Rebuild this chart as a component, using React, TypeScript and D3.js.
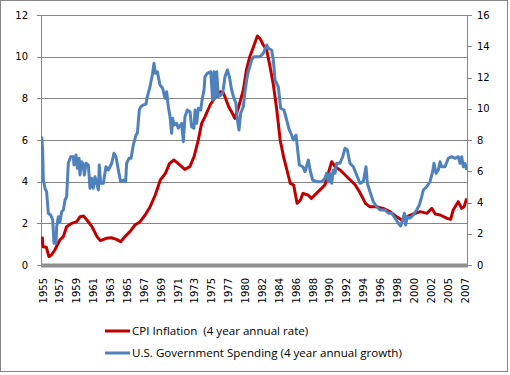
import React from "react";
import * as d3 from "d3";

const yearLabels = ["1955","1957","1959","1961","1963","1965","1967","1969","1971","1973","1975","1977","1980","1982","1984","1986","1988","1990","1992","1994","1996","1998","2000","2002","2005","2007"];
const leftTicks = [0, 2, 4, 6, 8, 10, 12];
const rightTicks = [0, 2, 4, 6, 8, 10, 12, 14, 16];

const cpiYears = [1954.9,1955.0,1955.4,1955.7,1956.0,1956.4,1956.7,1957.0,1957.4,1957.8,1958.4,1959.0,1959.4,1959.8,1960.2,1960.8,1961.4,1961.8,1962.5,1963.1,1963.7,1964.2,1964.7,1965.3,1965.9,1966.5,1967.1,1967.7,1968.3,1968.9,1969.5,1970.0,1970.5,1971.0,1971.8,1972.4,1972.9,1973.4,1973.8,1974.2,1974.8,1975.4,1976.0,1976.4,1977.0,1977.5,1978.1,1978.7,1979.6,1980.1,1980.5,1980.8,1981.4,1981.7,1982.1,1982.5,1982.9,1983.3,1983.7,1984.1,1984.5,1984.9,1985.3,1985.7,1986.1,1986.5,1986.8,1987.4,1987.8,1988.4,1989.0,1989.4,1989.8,1990.2,1990.6,1991.2,1991.8,1992.4,1993.0,1993.6,1994.2,1994.7,1995.5,1996.3,1997.1,1997.9,1998.5,1999.1,1999.9,2000.7,2001.5,2002.1,2002.7,2003.6,2004.8,2005.3,2005.6,2006.2,2006.6,2006.9,2007.2];
const cpiValues = [1.36,0.88,0.85,0.40,0.48,0.72,0.96,1.2,1.36,1.84,2.0,2.08,2.32,2.35,2.16,1.84,1.36,1.17,1.28,1.31,1.23,1.12,1.36,1.6,1.92,2.08,2.4,2.8,3.36,4.08,4.4,4.88,5.04,4.88,4.59,4.72,5.2,6.0,6.8,7.12,7.68,8.05,8.32,8.24,7.6,7.36,7.04,7.52,8.4,9.36,10.0,10.32,10.99,10.88,10.56,10.32,9.52,8.64,7.44,6.0,5.2,4.56,3.92,3.84,2.96,3.12,3.44,3.36,3.2,3.44,3.68,3.84,4.4,4.96,4.72,4.56,4.32,4.08,3.84,3.44,2.96,2.8,2.8,2.72,2.56,2.32,2.16,2.32,2.45,2.56,2.48,2.72,2.45,2.4,2.24,2.19,2.64,3.04,2.72,2.8,3.2];

const spendYears = [1954.84,1954.96,1955.04,1955.24,1955.43,1955.63,1955.91,1956.15,1956.30,1956.54,1956.62,1956.82,1957.01,1957.21,1957.41,1957.61,1957.80,1958.00,1958.28,1958.59,1958.67,1958.91,1959.07,1959.27,1959.38,1959.58,1959.78,1959.90,1960.09,1960.37,1960.57,1960.77,1960.96,1961.16,1961.36,1961.56,1961.67,1961.83,1962.15,1962.46,1962.74,1963.14,1963.41,1963.65,1963.93,1964.20,1964.52,1964.79,1964.91,1965.19,1965.43,1965.70,1966.02,1966.18,1966.41,1966.57,1966.89,1967.20,1967.36,1967.68,1967.99,1968.15,1968.31,1968.55,1968.86,1969.18,1969.45,1969.65,1969.85,1970.05,1970.24,1970.36,1970.56,1970.84,1971.03,1971.43,1971.63,1971.82,1972.10,1972.42,1972.61,1972.89,1973.01,1973.21,1973.40,1973.68,1973.88,1974.08,1974.19,1974.47,1974.87,1975.10,1975.26,1975.38,1975.58,1975.77,1976.05,1976.29,1976.56,1976.84,1977.12,1977.53,1977.94,1978.30,1978.54,1978.83,1979.13,1979.60,1979.89,1980.13,1980.32,1980.72,1980.99,1981.31,1981.71,1982.11,1982.50,1982.70,1983.09,1983.29,1983.49,1983.88,1984.16,1984.55,1984.87,1985.19,1985.46,1985.66,1985.98,1986.13,1986.37,1986.77,1987.04,1987.44,1987.64,1987.95,1988.43,1989.02,1989.41,1989.61,1989.81,1990.00,1990.20,1990.40,1990.60,1990.79,1991.19,1991.51,1991.78,1992.06,1992.37,1992.77,1993.16,1993.56,1993.95,1994.27,1994.43,1994.74,1995.14,1995.53,1995.93,1996.52,1996.92,1997.31,1997.71,1998.10,1998.38,1998.61,1998.81,1998.97,1999.17,1999.48,1999.88,2000.27,2000.59,2000.87,2001.06,2001.46,2001.85,2002.25,2002.49,2002.85,2003.26,2003.56,2003.85,2004.45,2005.02,2005.42,2005.82,2006.21,2006.41,2006.61,2006.80,2007.0,2007.2];
const spendValues = [8.21,7.36,5.44,4.91,4.69,3.31,3.2,2.88,1.39,1.39,2.45,3.09,2.77,3.41,3.52,4.16,4.37,6.51,6.93,6.93,6.4,7.04,6.19,6.83,5.76,6.61,6.4,5.76,6.51,6.4,4.91,5.55,4.91,5.65,5.23,4.8,6.4,5.23,5.23,6.29,6.08,6.51,7.15,6.93,6.08,5.33,5.44,5.33,6.51,6.83,6.83,7.68,8.32,8.43,9.92,10.13,10.24,10.3,10.77,11.41,12.27,12.91,12.27,12.37,11.52,11.31,10.67,11.09,10.13,9.49,8.43,9.39,8.96,9.07,8.75,9.07,7.89,9.49,9.92,9.81,8.85,8.75,9.92,9.07,10.03,9.92,10.67,11.2,12.05,12.27,12.37,10.56,12.37,10.67,12.37,10.77,10.88,10.99,12.05,12.48,12.05,11.2,10.67,10.35,9.28,8.64,9.71,10.13,11.09,11.84,12.37,13.12,13.33,13.33,13.33,13.55,14.08,13.87,13.76,13.12,11.84,11.41,10.03,9.92,9.28,8.64,8.32,8.0,8.32,7.57,6.4,6.29,5.97,6.72,6.08,5.44,5.33,5.33,5.55,5.87,5.33,5.87,5.23,6.08,5.87,6.51,6.51,6.93,7.47,7.36,6.51,6.29,5.76,5.23,5.33,6.29,5.23,4.69,4.05,3.73,3.52,3.52,3.31,3.31,2.99,2.67,2.5,2.88,3.31,2.56,3.09,2.99,3.2,3.52,3.84,4.37,4.8,5.01,5.33,5.97,6.51,5.87,6.08,6.61,6.29,6.29,6.83,6.93,6.83,6.93,6.51,6.93,6.29,6.51,6.08];

const seriesNames = ["CPI Inflation  (4 year annual rate)", "U.S. Government Spending (4 year annual growth)"];
const seriesColors = ["#C00000", "#4F81BD"];

export default function App() {
  const W = 510, H = 375;
  const left = 41, right = 467, top = 15, bottom = 265;
  const firstLabelX = 43, lastLabelX = 465;
  const labelYearsNum = yearLabels.map(Number);
  const step = (lastLabelX - firstLabelX) / (yearLabels.length - 1);
  const x = d3.scaleLinear().domain(labelYearsNum).range(labelYearsNum.map((_, i) => firstLabelX + i * step));
  const yL = d3.scaleLinear().domain([0, 12]).range([bottom, top]);
  const yR = d3.scaleLinear().domain([0, 16]).range([bottom, top]);

  const cpi = cpiYears.map((t, i) => [t, cpiValues[i]] as [number, number]);
  const spend = spendYears.map((t, i) => [t, spendValues[i]] as [number, number]);
  const lineL = d3.line<[number, number]>().x(d => x(d[0])).y(d => yL(d[1]));
  const lineR = d3.line<[number, number]>().x(d => x(d[0])).y(d => yR(d[1]));

  const font = "'DejaVu Sans', sans-serif";
  const legendFont = "'Open Sans', 'Liberation Sans', sans-serif";

  return (
    <svg width={W} height={H} style={{ position: "absolute", left: 0, top: 0, background: "#fff" }}>
      <rect x={0.5} y={0.5} width={507} height={371} fill="#fff" stroke="#868686" strokeWidth={1} />
      <defs>
        <clipPath id="plotclip">
          <rect x={left} y={top - 5} width={right - left} height={bottom - top + 8} />
        </clipPath>
      </defs>
      {leftTicks.filter(v => v > 0).map(v => (
        <line key={"g" + v} x1={left} x2={right} y1={Math.round(yL(v)) + 0.5} y2={Math.round(yL(v)) + 0.5} stroke="#868686" strokeWidth={1} />
      ))}
      <line x1={left + 0.5} x2={left + 0.5} y1={top} y2={bottom} stroke="#868686" />
      <line x1={right + 0.5} x2={right + 0.5} y1={top} y2={bottom + 2} stroke="#868686" />
      {leftTicks.map(v => (
        <g key={"l" + v}>
          <line x1={left - 4} x2={left} y1={Math.round(yL(v)) + 0.5} y2={Math.round(yL(v)) + 0.5} stroke="#868686" />
          <text x={left - 13} y={yL(v)} dy="0.35em" textAnchor="end" fontFamily={font} fontSize={10} fill="#000">{v}</text>
        </g>
      ))}
      {rightTicks.map(v => (
        <g key={"r" + v}>
          <line x1={right} x2={right + 5} y1={Math.round(yR(v)) + 0.5} y2={Math.round(yR(v)) + 0.5} stroke="#868686" />
          <text x={right + 10} y={yR(v)} dy="0.35em" textAnchor="start" fontFamily={font} fontSize={10} fill="#000">{v}</text>
        </g>
      ))}
      <rect x={left} y={bottom - 1.5} width={right - left + 1} height={4} fill="#8f8f8f" />
      {yearLabels.map((lab, i) => (
        <text key={lab} transform={`translate(${x(labelYearsNum[i])},278) rotate(-90)`} textAnchor="end" dy="0.35em" fontFamily={font} fontSize={10} fill="#000">{lab}</text>
      ))}
      <g clipPath="url(#plotclip)">
        <path d={lineL(cpi) || ""} fill="none" stroke={seriesColors[0]} strokeWidth={3} strokeLinejoin="round" />
        <path d={lineR(spend) || ""} fill="none" stroke={seriesColors[1]} strokeWidth={3} strokeLinejoin="round" />
      </g>
      {seriesNames.map((name, i) => (
        <g key={name}>
          <line x1={105} x2={130} y1={331 + i * 22} y2={331 + i * 22} stroke={seriesColors[i]} strokeWidth={3} />
          <text x={132} y={331 + i * 22} dy="0.35em" fontFamily={legendFont} fontSize={11.6} fill="#000" style={{ whiteSpace: "pre" }}>{name}</text>
        </g>
      ))}
    </svg>
  );
}
